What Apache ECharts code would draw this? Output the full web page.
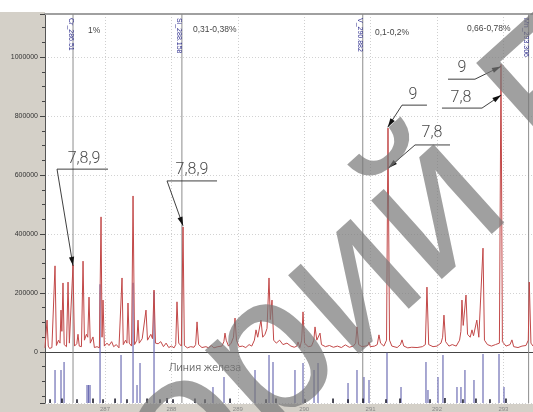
<!DOCTYPE html>
<html>
<head>
<meta charset="utf-8">
<script src="https://cdn.jsdelivr.net/npm/echarts@6/dist/echarts.min.js"></script>
<style>
  html, body { margin: 0; padding: 0; background: #ffffff; }
  #chart { width: 533px; height: 412px; }
</style>
</head>
<body>
<div id="chart"></div>
<script>
// Emission spectrum of steel around 286–293 nm (intensity vs wavelength, nm)
const spectrum = [
  [286.096, 14000], [286.110, 16000], [286.127, 108000], [286.145, 20000], [286.165, 12000],
  [286.200, 15000], [286.228, 13000], [286.247, 292000], [286.268, 22000], [286.300, 40000],
  [286.322, 30000], [286.337, 142000], [286.350, 70000], [286.367, 234000], [286.385, 25000],
  [286.420, 18000], [286.443, 237000], [286.463, 30000], [286.490, 24000], [286.518, 295000],
  [286.540, 20000], [286.575, 28000], [286.593, 60000], [286.612, 20000], [286.645, 18000],
  [286.669, 308000], [286.690, 40000], [286.720, 60000], [286.740, 50000], [286.759, 186000],
  [286.778, 30000], [286.800, 25000], [286.819, 51000], [286.840, 15000], [286.880, 18000],
  [286.915, 14000], [286.940, 458000], [286.955, 50000], [286.970, 176000], [286.990, 20000],
  [287.030, 30000], [287.060, 22000], [287.100, 35000], [287.130, 18000], [287.170, 25000],
  [287.210, 14000], [287.240, 16000], [287.256, 251000], [287.275, 25000], [287.310, 40000],
  [287.330, 30000], [287.346, 166000], [287.365, 30000], [287.400, 20000], [287.422, 529000],
  [287.445, 25000], [287.480, 40000], [287.497, 108000], [287.515, 30000], [287.560, 45000],
  [287.590, 40000], [287.617, 142000], [287.640, 40000], [287.690, 60000], [287.715, 45000],
  [287.738, 210000], [287.760, 30000], [287.800, 28000], [287.840, 35000], [287.880, 18000],
  [287.920, 30000], [287.960, 15000], [288.000, 20000], [288.040, 14000], [288.065, 25000],
  [288.084, 170000], [288.110, 30000], [288.150, 20000], [288.175, 424000], [288.195, 22000],
  [288.240, 14000], [288.290, 18000], [288.340, 16000], [288.365, 25000], [288.386, 102000],
  [288.410, 25000], [288.460, 15000], [288.520, 18000], [288.560, 14000], [288.600, 22000],
  [288.640, 14000], [288.700, 18000], [288.760, 20000], [288.790, 35000], [288.807, 64000],
  [288.825, 40000], [288.860, 20000], [288.900, 30000], [288.935, 50000], [288.958, 115000],
  [288.980, 40000], [289.020, 18000], [289.070, 20000], [289.120, 15000], [289.170, 25000],
  [289.210, 20000], [289.250, 40000], [289.274, 75000], [289.300, 50000], [289.330, 45000],
  [289.349, 108000], [289.375, 50000], [289.410, 60000], [289.440, 80000], [289.470, 251000],
  [289.490, 110000], [289.515, 176000], [289.540, 40000], [289.580, 30000], [289.630, 40000],
  [289.680, 25000], [289.740, 30000], [289.800, 20000], [289.850, 16000], [289.890, 20000],
  [289.907, 34000], [289.935, 15000], [289.962, 40000], [289.982, 136000], [290.005, 30000],
  [290.060, 18000], [290.110, 20000], [290.145, 40000], [290.163, 85000], [290.190, 40000],
  [290.220, 35000], [290.238, 64000], [290.260, 25000], [290.320, 18000], [290.380, 22000],
  [290.440, 16000], [290.500, 20000], [290.560, 15000], [290.620, 24000], [290.680, 16000],
  [290.740, 20000], [290.775, 30000], [290.795, 85000], [290.820, 25000], [290.870, 18000],
  [290.920, 20000], [290.960, 22000], [290.976, 34000], [290.995, 18000], [291.060, 20000],
  [291.100, 25000], [291.126, 58000], [291.150, 30000], [291.200, 20000], [291.240, 40000],
  [291.262, 759000], [291.285, 40000], [291.320, 20000], [291.400, 15000], [291.450, 25000],
  [291.473, 41000], [291.500, 20000], [291.560, 14000], [291.620, 16000], [291.700, 15000],
  [291.780, 18000], [291.825, 25000], [291.849, 220000], [291.875, 25000], [291.940, 18000],
  [292.000, 20000], [292.060, 30000], [292.085, 50000], [292.105, 125000], [292.130, 35000],
  [292.180, 20000], [292.230, 25000], [292.290, 20000], [292.340, 40000], [292.360, 70000],
  [292.376, 176000], [292.395, 90000], [292.437, 193000], [292.460, 60000], [292.500, 50000],
  [292.527, 75000], [292.550, 55000], [292.580, 60000], [292.600, 108000], [292.630, 50000],
  [292.660, 45000], [292.693, 352000], [292.715, 40000], [292.760, 25000], [292.820, 20000],
  [292.880, 25000], [292.940, 30000], [292.964, 975000], [292.985, 35000], [293.040, 20000],
  [293.100, 25000], [293.129, 41000], [293.155, 18000], [293.220, 15000], [293.280, 20000],
  [293.340, 22000], [293.375, 40000], [293.390, 237000], [293.415, 30000], [293.446, 20000]
];

// Reference iron lines (wavelength, relative height on the intensity scale)
const ironLines = [
  [286.247, -61000], [286.337, -61000], [286.383, -34000], [286.729, -112000], [286.752, -112000],
  [286.774, -112000], [286.925, 230000], [287.241, -10000], [287.422, 235000], [287.482, -112000],
  [287.527, -37000], [287.738, 205000], [288.626, -119000], [288.792, -85000], [289.259, -61000],
  [289.470, -10000], [289.530, -34000], [289.861, -61000], [289.982, -37000], [290.148, -61000],
  [290.208, -37000], [290.660, -105000], [290.795, -61000], [290.900, -85000], [290.976, -95000],
  [291.247, -3000], [291.458, -119000], [291.834, -34000], [291.864, -129000], [292.015, -85000],
  [292.090, -10000], [292.301, -119000], [292.361, -119000], [292.421, -61000], [292.557, -95000],
  [292.693, -7000], [292.934, -7000], [293.009, -119000]
];

// Weak iron lines near the axis
const weakLines = [
  [286.172, -160000], [286.352, -158000], [286.578, -160000], [286.819, -158000], [286.970, -160000],
  [287.151, -158000], [287.331, -160000], [287.633, -158000], [287.828, -160000], [287.934, -156000],
  [288.024, -160000], [288.355, -158000], [288.506, -160000], [288.883, -158000], [289.425, -160000],
  [289.575, -158000], [290.012, -160000], [290.434, -158000], [290.660, -160000], [290.886, -158000],
  [291.232, -160000], [291.443, -158000], [291.895, -160000], [292.120, -156000], [292.391, -160000],
  [292.587, -158000], [292.798, -160000], [293.039, -158000]
];

// Analytical lines and element contents
const elementNames = ['Cr_286.51', 'Si_288.158', 'V_290.882', 'Mn_293.306'];
const elementWavelengths = [286.518, 288.158, 290.882, 293.380];
const elementContents = ['1%', '0,31-0,38%', '0,1-0,2%', '0,66-0,78%'];
const contentAnchors = [[286.744, 1090000], [288.325, 1092000], [291.066, 1082000], [292.452, 1097000]];

// Sample-number callouts: label, label centre, leader polyline ending at the arrow tip
const calloutLabels = ['7,8,9', '7,8,9', '9', '7,8', '9', '7,8'];
const calloutTextAt = [
  [286.684, 654000], [288.310, 617000], [291.638, 871000],
  [291.925, 742000], [292.376, 963000], [292.361, 861000]
];
const calloutPaths = [
  [[287.045, 620000], [286.277, 620000], [286.518, 292000]],
  [[288.687, 580000], [287.934, 580000], [288.175, 428000]],
  [[291.849, 837000], [291.473, 837000], [291.258, 762000]],
  [[292.196, 702000], [291.669, 702000], [291.268, 624000]],
  [[292.166, 925000], [292.572, 925000], [292.962, 968000]],
  [[292.075, 827000], [292.678, 827000], [292.968, 871000]]
];

const panelCaption = 'Линия железа';
const panelCaptionAt = [288.506, -54000];

const xTickFormat = v => String(Math.round(v));
const yTickFormat = v => String(Math.round(v));

const X_MIN = 286.096, X_MAX = 293.446;
const Y_MIN = -173000, Y_MAX = 1146000;

const chart = echarts.init(document.getElementById('chart'), null, { renderer: 'canvas' });

function vline(color, width) {
  return function (params, api) {
    const x = api.coord([api.value(0), 0])[0];
    const y0 = api.coord([api.value(0), Y_MIN])[1];
    const y1 = api.coord([api.value(0), api.value(1)])[1];
    return {
      type: 'line',
      shape: { x1: x, y1: y0, x2: x, y2: y1 },
      style: { stroke: color, lineWidth: width }
    };
  };
}

const option = {
  backgroundColor: '#ffffff',
  animation: false,
  grid: { left: 45, right: 0, top: 14, bottom: 9, containLabel: false },
  graphic: [
    { type: 'rect', z: -10, shape: { x: 0, y: 12, width: 45, height: 400 }, style: { fill: '#d4d0c8' } },
    { type: 'rect', z: -10, shape: { x: 0, y: 404, width: 533, height: 8 }, style: { fill: '#d4d0c8' } },
    {
      type: 'text', z: 200, x: -408, y: 970, rotation: 42 * Math.PI / 180,
      style: {
        text: 'Репозиторий БНТУ',
        font: '200px "Liberation Sans"',
        fill: 'rgba(120,120,120,0.7)',
        align: 'left', verticalAlign: 'middle'
      }
    }
  ],
  xAxis: [
    {
      type: 'value', min: X_MIN, max: X_MAX, splitNumber: 7,
      axisLine: { lineStyle: { color: '#444', width: 1 } },
      axisTick: { show: false },
      axisLabel: {
        fontSize: 6, color: '#888', margin: 3, fontFamily: 'Liberation Sans',
        showMinLabel: false, showMaxLabel: false, formatter: xTickFormat
      },
      splitLine: { show: true, lineStyle: { color: '#cfcfcf', type: [1, 2], width: 1 } }
    },
    {
      type: 'value', position: 'top', min: X_MIN, max: X_MAX, splitNumber: 7,
      axisLine: { show: true, lineStyle: { color: '#a0a0a0', width: 2 } },
      axisTick: { show: false }, axisLabel: { show: false }, splitLine: { show: false }
    }
  ],
  yAxis: {
    type: 'value', min: Y_MIN, max: Y_MAX, splitNumber: 6,
    axisLine: { show: true, lineStyle: { color: '#555' } },
    axisTick: { show: true, length: 5, lineStyle: { color: '#444' } },
    minorTick: { show: true, splitNumber: 4, length: 3, lineStyle: { color: '#444' } },
    axisLabel: {
      fontSize: 7, color: '#333', margin: 7, fontFamily: 'Liberation Sans',
      showMinLabel: false, showMaxLabel: false, formatter: yTickFormat
    },
    splitLine: { show: true, lineStyle: { color: '#d2d2d2', type: [1, 2] } }
  },
  series: [
    {
      name: 'elements', type: 'custom', xAxisIndex: 0, z: 1, silent: true,
      data: elementWavelengths.map((w, i) => [w, 0, i]),
      renderItem: function (params, api) {
        const i = params.dataIndex;
        const x = api.coord([api.value(0), 0])[0];
        const yTop = api.coord([api.value(0), Y_MAX])[1];
        const yBot = api.coord([api.value(0), Y_MIN])[1];
        const c = api.coord(contentAnchors[i]);
        return {
          type: 'group',
          children: [
            { type: 'line', shape: { x1: x, y1: yTop, x2: x, y2: yBot }, style: { stroke: '#8d8d8d', lineWidth: 1 } },
            {
              type: 'text', x: x - 2.5, y: yTop + 4, rotation: -Math.PI / 2,
              style: { text: elementNames[i], font: '7px "Liberation Sans"', fill: '#30308f', align: 'left', verticalAlign: 'middle' }
            },
            {
              type: 'text', x: c[0], y: c[1],
              style: { text: elementContents[i], font: '8.5px "Liberation Sans"', fill: '#454545', align: 'left', verticalAlign: 'middle' }
            }
          ]
        };
      }
    },
    {
      name: 'iron', type: 'custom', z: 2, silent: true,
      data: ironLines, renderItem: vline('#6e6eb4', 1.2)
    },
    {
      name: 'ironWeak', type: 'custom', z: 2, silent: true,
      data: weakLines, renderItem: vline('#202030', 1.6)
    },
    {
      name: 'spectrum', type: 'line', z: 3, data: spectrum,
      showSymbol: false, symbol: 'none', silent: true,
      lineStyle: { color: '#c24848', width: 1 }
    },
    {
      name: 'callouts', type: 'custom', z: 5, silent: true,
      data: calloutTextAt.map((p, i) => [p[0], p[1], i]),
      renderItem: function (params, api) {
        const i = params.dataIndex;
        const t = api.coord(calloutTextAt[i]);
        const pts = calloutPaths[i].map(p => api.coord(p));
        const tip = pts[pts.length - 1], prev = pts[pts.length - 2];
        const dx = tip[0] - prev[0], dy = tip[1] - prev[1];
        const len = Math.sqrt(dx * dx + dy * dy) || 1;
        const ux = dx / len, uy = dy / len;
        const bx = tip[0] - ux * 9, by = tip[1] - uy * 9;
        const px = -uy * 2.6, py = ux * 2.6;
        return {
          type: 'group',
          children: [
            { type: 'polyline', shape: { points: pts }, style: { stroke: '#2a2a2a', lineWidth: 0.9, fill: null } },
            { type: 'polygon', shape: { points: [tip, [bx + px, by + py], [bx - px, by - py]] }, style: { fill: '#111' } },
            {
              type: 'text', x: t[0], y: t[1],
              style: { text: calloutLabels[i], font: '300 16px Roboto', fill: '#4a4a4a', align: 'center', verticalAlign: 'middle' }
            }
          ]
        };
      }
    },
    {
      name: 'caption', type: 'custom', z: 5, silent: true,
      data: [panelCaptionAt],
      renderItem: function (params, api) {
        const c = api.coord(panelCaptionAt);
        return {
          type: 'text', x: c[0], y: c[1],
          style: { text: panelCaption, font: '300 11px Roboto', fill: '#444', align: 'center', verticalAlign: 'middle' }
        };
      }
    }
  ]
};

chart.setOption(option);
</script>
</body>
</html>
